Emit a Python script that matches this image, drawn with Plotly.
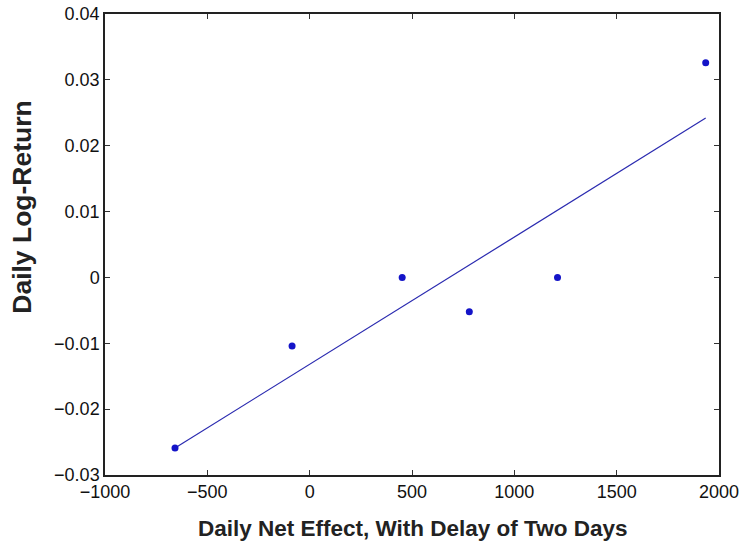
import numpy as np
import plotly.graph_objects as go

# Daily net effect (delay of two days) vs. daily log-return
net_effect = [-658, -86, 452, 780, 1211, 1935]
log_return = [-0.0259, -0.0104, 0.0000, -0.0052, 0.0000, 0.0326]

x_ticks = [-1000, -500, 0, 500, 1000, 1500, 2000]
x_labels = ["\u22121000", "\u2212500", "0", "500", "1000", "1500", "2000"]
y_ticks = [-0.03, -0.02, -0.01, 0, 0.01, 0.02, 0.03, 0.04]
y_labels = ["\u22120.03", "\u22120.02", "\u22120.01", "0", "0.01", "0.02", "0.03", "0.04"]

# least-squares regression line over the data range
slope, intercept = np.polyfit(net_effect, log_return, 1)
fit_x = [min(net_effect), max(net_effect)]
fit_y = [slope * v + intercept for v in fit_x]

fig = go.Figure()
fig.add_trace(go.Scatter(
    x=fit_x, y=fit_y, mode="lines",
    line=dict(color="#2b2bb0", width=1.2),
    showlegend=False, hoverinfo="skip",
))
fig.add_trace(go.Scatter(
    x=net_effect, y=log_return, mode="markers",
    marker=dict(color="#1414c8", size=7, symbol="circle"),
    showlegend=False,
))

FAMILY = "Liberation Sans, Arial, Helvetica, sans-serif"
tick_font = dict(family=FAMILY, size=18, color="#111")

fig.update_xaxes(
    range=[-1000, 2000], tickvals=x_ticks, ticktext=x_labels,
    ticks="inside", ticklen=5, tickwidth=1, tickcolor="#333",
    showline=True, linecolor="#222", linewidth=1.5, mirror="ticks",
    showgrid=False, zeroline=False, tickfont=tick_font, automargin=False,
)
fig.update_yaxes(
    range=[-0.03, 0.04], tickvals=y_ticks, ticktext=y_labels,
    ticks="inside", ticklen=5, tickwidth=1, tickcolor="#333",
    showline=True, linecolor="#222", linewidth=1.5, mirror="ticks",
    showgrid=False, zeroline=False, tickfont=tick_font, automargin=False,
)

# axis titles placed in paper coordinates
fig.add_annotation(
    text="<b>Daily Net Effect, With Delay of Two Days</b>",
    xref="paper", yref="paper", x=0.5, y=-0.115, yanchor="middle",
    showarrow=False, font=dict(family=FAMILY, size=22.5, color="#222"),
)
fig.add_annotation(
    text="<b>Daily Log-Return</b>",
    xref="paper", yref="paper", x=-0.135, y=0.58, xanchor="center",
    yanchor="middle", textangle=-90, showarrow=False,
    font=dict(family=FAMILY, size=26.5, color="#222"),
)

fig.update_layout(
    width=747, height=551,
    margin=dict(l=105, r=28, t=14, b=76),
    paper_bgcolor="white", plot_bgcolor="white",
)

fig.write_html("out.html")
